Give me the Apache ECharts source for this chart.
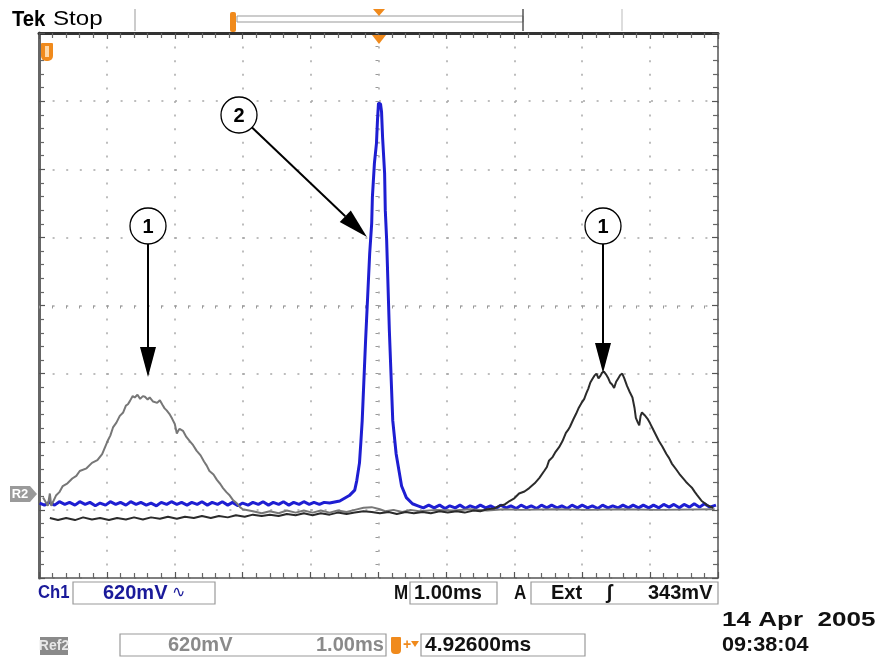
<!DOCTYPE html>
<html><head><meta charset="utf-8">
<script src="https://cdn.jsdelivr.net/npm/echarts@6/dist/echarts.min.js"></script>
<style>html,body{margin:0;padding:0;background:#fff}#c{width:881px;height:660px}</style>
</head><body><div id="c"></div>
<script>
// time axis (ms, 1.00 ms/div) and vertical axis (divisions, 620 mV/div)
const timeRange = [-5, 5];
const divRange = [-4, 4];

// Ch1 (blue) – narrow pulse
const blueTrace = [
[-4.99,-2.90],[-4.92,-2.93],[-4.85,-2.89],[-4.77,-2.93],[-4.70,-2.88],[-4.62,-2.92],[-4.55,-2.89],
[-4.47,-2.93],[-4.40,-2.88],[-4.32,-2.92],[-4.25,-2.89],[-4.17,-2.94],[-4.10,-2.90],[-4.02,-2.93],
[-3.95,-2.88],[-3.87,-2.92],[-3.80,-2.89],[-3.72,-2.93],[-3.65,-2.88],[-3.57,-2.92],[-3.50,-2.89],
[-3.42,-2.93],[-3.35,-2.90],[-3.27,-2.94],[-3.20,-2.89],[-3.12,-2.92],[-3.05,-2.88],[-2.97,-2.92],
[-2.90,-2.89],[-2.82,-2.93],[-2.75,-2.89],[-2.67,-2.92],[-2.60,-2.88],[-2.52,-2.93],[-2.45,-2.89],
[-2.37,-2.92],[-2.30,-2.88],[-2.22,-2.93],[-2.15,-2.89],[-2.07,-2.94],[-2.00,-2.90],[-1.92,-2.93],
[-1.85,-2.89],[-1.77,-2.92],[-1.70,-2.88],[-1.62,-2.93],[-1.55,-2.89],[-1.47,-2.92],[-1.40,-2.88],
[-1.32,-2.93],[-1.25,-2.89],[-1.17,-2.92],[-1.10,-2.88],[-1.02,-2.92],[-0.95,-2.89],[-0.87,-2.92],
[-0.80,-2.89],[-0.72,-2.90],[-0.57,-2.87],[-0.43,-2.79],[-0.35,-2.71],[-0.32,-2.57],[-0.28,-2.31],
[-0.26,-2.01],[-0.24,-1.69],[-0.19,-0.51],[-0.13,0.76],[-0.10,1.21],[-0.09,1.59],[-0.06,2.09],
[-0.03,2.38],[-0.015,2.72],[0,2.97],[0.03,2.96],[0.045,2.84],[0.06,2.47],[0.09,1.94],[0.10,1.40],
[0.12,0.96],[0.13,0.63],[0.16,-0.37],[0.21,-1.69],[0.26,-2.18],[0.34,-2.65],[0.41,-2.82],[0.50,-2.91],
[0.58,-2.94],[0.66,-2.97],[0.74,-2.93],[0.82,-2.97],[0.90,-2.93],[0.98,-2.98],[1.05,-2.94],[1.13,-2.97],
[1.20,-2.93],[1.28,-2.98],[1.35,-2.94],[1.43,-2.97],[1.50,-2.93],[1.58,-2.97],[1.65,-2.94],[1.73,-2.98],
[1.80,-2.93],[1.88,-2.97],[1.95,-2.94],[2.03,-2.98],[2.10,-2.93],[2.18,-2.97],[2.25,-2.94],[2.33,-2.98],
[2.40,-2.93],[2.48,-2.97],[2.55,-2.93],[2.63,-2.97],[2.70,-2.94],[2.78,-2.98],[2.85,-2.93],[2.93,-2.97],
[3.00,-2.93],[3.08,-2.97],[3.15,-2.94],[3.23,-2.98],[3.30,-2.93],[3.38,-2.97],[3.45,-2.94],[3.53,-2.97],
[3.60,-2.93],[3.68,-2.97],[3.75,-2.93],[3.83,-2.97],[3.90,-2.93],[3.98,-2.97],[4.05,-2.93],[4.13,-2.97],
[4.20,-2.92],[4.28,-2.96],[4.35,-2.92],[4.43,-2.97],[4.50,-2.92],[4.58,-2.96],[4.65,-2.91],[4.73,-2.96],
[4.80,-2.91],[4.88,-2.96],[4.97,-2.93]
];

// gray reference trace – left hump
const grayTrace = [
[-4.94,-2.82],[-4.87,-2.94],[-4.84,-2.76],[-4.82,-2.94],[-4.75,-2.79],[-4.70,-2.74],[-4.65,-2.65],
[-4.58,-2.61],[-4.51,-2.54],[-4.45,-2.50],[-4.40,-2.43],[-4.30,-2.39],[-4.22,-2.31],[-4.14,-2.27],
[-4.07,-2.18],[-3.99,-1.99],[-3.95,-1.91],[-3.91,-1.79],[-3.86,-1.72],[-3.81,-1.62],[-3.76,-1.57],
[-3.72,-1.47],[-3.69,-1.45],[-3.66,-1.40],[-3.62,-1.33],[-3.59,-1.35],[-3.55,-1.31],[-3.51,-1.37],
[-3.47,-1.33],[-3.44,-1.34],[-3.40,-1.38],[-3.37,-1.35],[-3.32,-1.41],[-3.26,-1.43],[-3.22,-1.39],
[-3.18,-1.46],[-3.15,-1.51],[-3.12,-1.54],[-3.08,-1.59],[-3.04,-1.66],[-3.00,-1.74],[-2.97,-1.88],
[-2.95,-1.84],[-2.93,-1.81],[-2.88,-1.84],[-2.83,-1.93],[-2.78,-1.99],[-2.73,-2.05],[-2.68,-2.13],
[-2.62,-2.20],[-2.57,-2.29],[-2.53,-2.35],[-2.49,-2.43],[-2.43,-2.48],[-2.38,-2.56],[-2.33,-2.62],
[-2.29,-2.68],[-2.24,-2.74],[-2.19,-2.79],[-2.14,-2.86],[-2.09,-2.90],[-2.04,-2.96],[-2.00,-2.99],
[-1.85,-3.02],[-1.72,-3.05],[-1.60,-3.02],[-1.47,-3.05],[-1.35,-3.01],[-1.22,-3.04],[-1.10,-3.01],
[-0.97,-3.04],[-0.85,-3.01],[-0.72,-3.04],[-0.60,-3.01],[-0.47,-3.03],[-0.35,-3.00],[-0.22,-2.97],
[-0.10,-2.96],[0.02,-2.99],[0.10,-3.02],[0.22,-3.00],[0.35,-3.03],[0.47,-3.00],[0.60,-3.02],
[0.85,-3.00],[1.10,-3.01],[1.35,-2.99],[1.60,-3.01],[1.85,-2.99],[2.10,-3.00],[2.60,-2.99],
[3.10,-3.00],[3.60,-2.99],[4.10,-3.00],[4.95,-2.99]
];

// dark reference trace – right hump
const darkTrace = [
[-4.84,-3.12],[-4.72,-3.15],[-4.60,-3.12],[-4.47,-3.15],[-4.35,-3.11],[-4.22,-3.14],[-4.10,-3.12],
[-3.97,-3.15],[-3.85,-3.12],[-3.72,-3.14],[-3.60,-3.11],[-3.47,-3.14],[-3.35,-3.11],[-3.22,-3.13],
[-3.10,-3.10],[-2.97,-3.13],[-2.85,-3.10],[-2.72,-3.12],[-2.60,-3.09],[-2.47,-3.12],[-2.35,-3.09],
[-2.22,-3.11],[-2.10,-3.08],[-1.97,-3.10],[-1.85,-3.07],[-1.72,-3.09],[-1.60,-3.07],[-1.47,-3.09],
[-1.35,-3.06],[-1.22,-3.08],[-1.10,-3.05],[-0.97,-3.08],[-0.85,-3.05],[-0.72,-3.07],[-0.60,-3.04],
[-0.47,-3.06],[-0.35,-3.04],[-0.22,-3.02],[-0.10,-3.03],[0.02,-3.05],[0.15,-3.03],[0.27,-3.06],
[0.40,-3.03],[0.52,-3.05],[0.65,-3.03],[0.77,-3.05],[0.90,-3.02],[1.02,-3.04],[1.15,-3.02],
[1.27,-3.04],[1.40,-3.01],[1.50,-3.02],[1.60,-2.99],[1.70,-2.98],[1.78,-2.94],[1.86,-2.92],
[1.93,-2.87],[2.00,-2.83],[2.07,-2.76],[2.15,-2.73],[2.22,-2.68],[2.30,-2.61],[2.37,-2.53],
[2.44,-2.43],[2.48,-2.37],[2.51,-2.28],[2.56,-2.23],[2.60,-2.16],[2.66,-2.08],[2.71,-1.99],
[2.76,-1.87],[2.79,-1.83],[2.82,-1.78],[2.87,-1.67],[2.91,-1.59],[2.95,-1.50],[2.99,-1.43],
[3.03,-1.37],[3.06,-1.29],[3.09,-1.22],[3.12,-1.13],[3.15,-1.08],[3.18,-1.03],[3.21,-1.00],
[3.24,-1.07],[3.27,-1.03],[3.29,-0.99],[3.32,-0.97],[3.35,-1.01],[3.38,-1.06],[3.41,-1.13],
[3.44,-1.16],[3.47,-1.21],[3.50,-1.12],[3.53,-1.07],[3.56,-1.02],[3.59,-1.00],[3.62,-1.07],
[3.66,-1.18],[3.70,-1.27],[3.74,-1.35],[3.77,-1.50],[3.79,-1.65],[3.82,-1.72],[3.84,-1.76],
[3.86,-1.62],[3.88,-1.57],[3.92,-1.61],[3.96,-1.66],[4.00,-1.73],[4.03,-1.79],[4.08,-1.89],
[4.13,-1.99],[4.18,-2.07],[4.24,-2.18],[4.28,-2.24],[4.32,-2.32],[4.38,-2.40],[4.43,-2.47],
[4.48,-2.53],[4.53,-2.59],[4.58,-2.64],[4.62,-2.68],[4.66,-2.74],[4.69,-2.78],[4.73,-2.83],
[4.76,-2.87],[4.80,-2.90],[4.84,-2.93],[4.88,-2.95],[4.93,-2.97]
];

// readout texts
const headerTexts = ['Tek', 'Stop'];
const ch1Texts = ['Ch1', '620mV', 'M', '1.00ms', 'A', 'Ext', '343mV'];
const ref2Texts = ['Ref2', '620mV', '1.00ms', '4.92600ms'];
const dateTexts = ['14 Apr  2005', '09:38:04'];
const calloutLabels = ['1', '2', '1'];

const FONT = "'Liberation Sans', Arial, sans-serif";
const GRID = {left: 39, top: 33, width: 679, height: 545};
const dotted = {color: '#a8a8a8', width: 1.5, type: [2, 11.6]};

function borderAxis(pos, grid, range, lw, col) {
  return {
    type: 'value', gridIndex: grid, position: pos, min: range[0], max: range[1], interval: 1,
    axisLine: {show: true, onZero: false, lineStyle: {color: col, width: lw}},
    axisTick: {show: true, inside: true, length: 6, lineStyle: {color: '#555', width: 1.2}},
    minorTick: {show: true, splitNumber: 5, length: 5, lineStyle: {color: '#666', width: 1.2}},
    axisLabel: {show: false}, splitLine: {show: false}
  };
}

const xMain = borderAxis('bottom', 0, timeRange, 1.5, '#555');
xMain.splitLine = {show: true, lineStyle: dotted};
const yMain = borderAxis('left', 0, divRange, 3, '#666');
yMain.splitLine = {show: true, lineStyle: dotted};
const xTop = borderAxis('top', 0, timeRange, 3, '#333');
const yRight = borderAxis('right', 0, divRange, 1.5, '#555');

function centerAxis(pos, range) {
  return {
    type: 'value', gridIndex: 1, position: pos, min: range[0], max: range[1], interval: 1,
    axisLine: {show: true, onZero: true, lineStyle: {color: 'rgba(0,0,0,0)'}},
    axisTick: {show: true, inside: false, length: 3, lineStyle: {color: '#999'}},
    minorTick: {show: true, splitNumber: 5, length: 3, lineStyle: {color: '#999'}},
    axisLabel: {show: false}, splitLine: {show: false}
  };
}

const orange = '#f08a1c';
const txt = (t, x, y, o = {}) => ({
  type: 'text', x: x, y: y, z: 100, scaleX: o.sx || 1,
  style: Object.assign({text: t, font: (o.weight || 'normal') + ' ' + (o.size || 18) + 'px ' + FONT,
    fill: o.fill || '#111', textAlign: o.align || 'left', textVerticalAlign: 'middle'}, o.style || {})
});
const box = (x, y, w, h) => ({type: 'rect', z: 90, shape: {x: x, y: y, width: w, height: h},
  style: {fill: 'none', stroke: '#9a9a9a', lineWidth: 1.2}});

function callout(cx, cy, label, tx, ty) {
  const dx = tx - cx, dy = ty - cy, L = Math.hypot(dx, dy), ux = dx / L, uy = dy / L;
  const sx = cx + ux * 18, sy = cy + uy * 18, head = 30, hw = 8;
  const bx = tx - ux * head, by = ty - uy * head;
  return [
    {type: 'circle', z: 100, shape: {cx: cx, cy: cy, r: 18}, style: {fill: '#fff', stroke: '#000', lineWidth: 1.3}},
    txt(label, cx, cy + 1, {size: 20, weight: 'bold', align: 'center', fill: '#000'}),
    {type: 'line', z: 100, shape: {x1: sx, y1: sy, x2: bx, y2: by}, style: {stroke: '#000', lineWidth: 2}},
    {type: 'polygon', z: 100, shape: {points: [[tx, ty], [bx - uy * hw, by + ux * hw], [bx + uy * hw, by - ux * hw]]},
      style: {fill: '#000'}}
  ];
}

const graphics = [
  txt(headerTexts[0], 12, 20, {size: 22, weight: 'bold', fill: '#000', sx: 0.92}),
  txt(headerTexts[1], 53, 19, {size: 21, fill: '#000', sx: 1.15}),
  {type: 'line', shape: {x1: 135, y1: 9, x2: 135, y2: 31}, style: {stroke: '#999', lineWidth: 1}},
  {type: 'line', shape: {x1: 622, y1: 9, x2: 622, y2: 31}, style: {stroke: '#bbb', lineWidth: 1}},
  {type: 'rect', shape: {x: 237, y: 16, width: 286, height: 6}, style: {fill: '#fff', stroke: '#999', lineWidth: 1}},
  {type: 'line', shape: {x1: 523, y1: 9, x2: 523, y2: 31}, style: {stroke: '#555', lineWidth: 1.5}},
  {type: 'rect', shape: {x: 230, y: 12, width: 6, height: 20, r: 2}, style: {fill: orange}},
  {type: 'polygon', shape: {points: [[373, 9], [385, 9], [379, 16]]}, style: {fill: orange}},
  {type: 'polygon', z: 50, shape: {points: [[372, 35], [386, 35], [379, 44]]}, style: {fill: orange}},
  {type: 'rect', z: 50, shape: {x: 41, y: 43, width: 12, height: 18, r: [1, 1, 5, 5]}, style: {fill: orange}},
  {type: 'rect', z: 51, shape: {x: 45, y: 46, width: 4, height: 11}, style: {fill: '#ffd9a8'}},
  // R2 marker
  {type: 'polygon', z: 50, shape: {points: [[10, 486], [30, 486], [37, 494], [30, 502], [10, 502]]},
    style: {fill: '#9a9a9a'}},
  txt('R2', 20, 494, {size: 13, weight: 'bold', align: 'center', fill: '#fff'}),
  // row 1
  txt(ch1Texts[0], 38, 593, {size: 19, weight: 'bold', fill: '#1a1a9a', sx: 0.88}),
  box(73, 582, 142, 22),
  txt(ch1Texts[1], 103, 593, {size: 20, weight: 'bold', fill: '#1a1a9a'}),
  txt('\u223F', 172, 593, {size: 16, fill: '#1a1a9a'}),
  txt(ch1Texts[2], 394, 593, {size: 20, weight: 'bold', sx: 0.85}),
  box(410, 582, 87, 22),
  txt(ch1Texts[3], 414, 593, {size: 20, weight: 'bold'}),
  txt(ch1Texts[4], 514, 593, {size: 20, weight: 'bold', sx: 0.85}),
  box(531, 582, 187, 22),
  txt(ch1Texts[5], 551, 593, {size: 20, weight: 'bold'}),
  txt('\u0283', 606, 593, {size: 20, weight: 'bold', style: {fontStyle: 'italic'}}),
  txt(ch1Texts[6], 648, 593, {size: 20, weight: 'bold'}),
  // row 2
  {type: 'rect', z: 90, shape: {x: 40, y: 637, width: 28, height: 18}, style: {fill: '#8a8a8a'}},
  txt(ref2Texts[0], 54, 646, {size: 14, weight: 'bold', align: 'center', fill: '#e8e8e8'}),
  box(120, 634, 266, 22),
  txt(ref2Texts[1], 168, 645, {size: 20, weight: 'bold', fill: '#8a8a8a'}),
  txt(ref2Texts[2], 316, 645, {size: 20, weight: 'bold', fill: '#8a8a8a'}),
  {type: 'rect', z: 90, shape: {x: 391, y: 637, width: 10, height: 17, r: [1, 1, 4, 4]}, style: {fill: orange}},
  txt('+', 403, 645, {size: 14, weight: 'bold', fill: orange}),
  {type: 'polygon', z: 90, shape: {points: [[411, 641], [419, 641], [415, 647]]}, style: {fill: orange}},
  box(421, 634, 164, 22),
  txt(ref2Texts[3], 425, 645, {size: 21, weight: 'bold'}),
  txt(dateTexts[0], 722, 620, {size: 21, weight: 'bold', sx: 1.24}),
  txt(dateTexts[1], 722, 645, {size: 21, weight: 'bold', sx: 1.03})
].concat(
  callout(148, 226, calloutLabels[0], 148, 377),
  callout(239, 115, calloutLabels[1], 367, 237),
  callout(603, 226, calloutLabels[2], 603, 373)
);

const chart = echarts.init(document.getElementById('c'), null, {renderer: 'canvas'});
chart.setOption({
  animation: false,
  backgroundColor: '#fff',
  grid: [Object.assign({}, GRID), Object.assign({}, GRID)],
  xAxis: [xMain, xTop, centerAxis('bottom', timeRange)],
  yAxis: [yMain, yRight, centerAxis('left', divRange)],
  series: [
    {type: 'line', data: blueTrace, xAxisIndex: 0, yAxisIndex: 0, showSymbol: false, z: 3,
      lineStyle: {color: '#1e1ed2', width: 3}},
    {type: 'line', data: grayTrace, xAxisIndex: 0, yAxisIndex: 0, showSymbol: false, z: 4,
      lineStyle: {color: '#777777', width: 2}},
    {type: 'line', data: darkTrace, xAxisIndex: 0, yAxisIndex: 0, showSymbol: false, z: 4,
      lineStyle: {color: '#2b2b2b', width: 2}}
  ],
  graphic: graphics
});
</script></body></html>
